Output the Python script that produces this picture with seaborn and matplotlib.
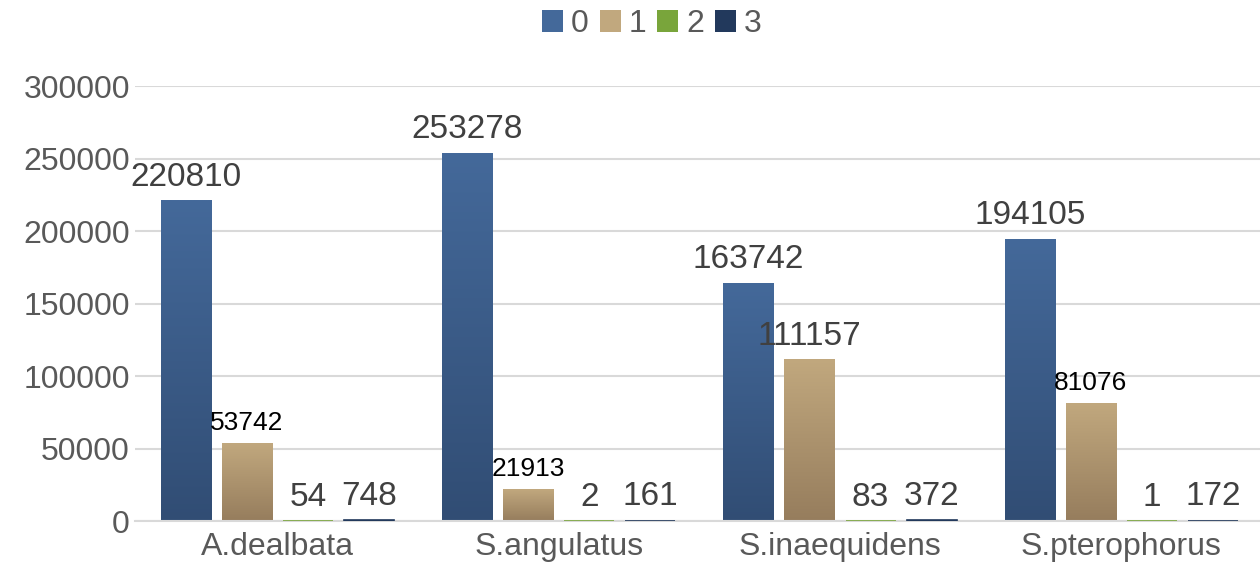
import numpy as np
import pandas as pd
import seaborn as sns
import matplotlib
matplotlib.use("Agg")
import matplotlib.pyplot as plt
from matplotlib.colors import LinearSegmentedColormap
from matplotlib.patches import Patch

species = ["A.dealbata", "S.angulatus", "S.inaequidens", "S.pterophorus"]
classes = ["0", "1", "2", "3"]
class0 = [220810, 253278, 163742, 194105]
class1 = [53742, 21913, 111157, 81076]
class2 = [54, 2, 83, 1]
class3 = [748, 161, 372, 172]

# top / bottom colours of each series gradient
grad = {
    "0": ("#44699a", "#314d74"),
    "1": ("#c1a87e", "#967d5d"),
    "2": ("#79a53b", "#5c842d"),
    "3": ("#22395c", "#1b2e4b"),
}
# a few labels are drawn smaller and black in the original
small_black = {("1", "A.dealbata"), ("1", "S.angulatus"), ("1", "S.pterophorus")}

df = pd.DataFrame({
    "species": np.repeat(species, 4),
    "cls": classes * 4,
    "count": [v for row in zip(class0, class1, class2, class3) for v in row],
})

sns.set_style("white")
plt.rcParams["font.family"] = ["Liberation Sans", "DejaVu Sans"]

fig = plt.figure(figsize=(12.6, 5.63), dpi=100)
ax = fig.add_axes([0.107, 0.0746, 0.893, 0.7725])

palette = {c: grad[c][0] for c in classes}
sns.barplot(data=df, x="species", y="count", hue="cls", hue_order=classes,
            order=species, palette=palette, width=0.868, gap=0.18,
            ax=ax, legend=False, errorbar=None, saturation=1)

XLIM = (-0.507, 3.493)
ax.set_ylim(0, 300000)
ax.set_xlim(*XLIM)
ax.set_yticks(range(0, 300001, 50000))
ax.yaxis.grid(True, color="#d9d9d9", linewidth=1.5)
ax.set_axisbelow(True)
for s in ["top", "right", "left"]:
    ax.spines[s].set_visible(False)
ax.spines["bottom"].set_color("#d9d9d9")
ax.spines["bottom"].set_linewidth(1.5)
ax.tick_params(axis="both", length=0, labelsize=23, labelcolor="#595959")
ax.tick_params(axis="x", pad=8)
ax.set_xlabel("")
ax.set_ylabel("")

# below about 1.5 px the gradient is not visible: draw a flat thin bar instead
min_h = 1.5 / 435 * 300000

# replace flat fills with vertical gradients
for i, cls in enumerate(classes):
    cont = ax.containers[i]
    top, bot = grad[cls]
    cmap = LinearSegmentedColormap.from_list(cls, [bot, top])
    for bar, sp in zip(cont, species):
        x0, w, h = bar.get_x(), bar.get_width(), bar.get_height()
        if h < min_h:
            bar.set_facecolor(top)
            bar.set_edgecolor(top)
            bar.set_linewidth(1.2)
            bar.set_zorder(3)
        else:
            ax.imshow(np.linspace(0, 1, 256).reshape(-1, 1), cmap=cmap, origin="lower",
                      extent=[x0, x0 + w, 0, h], aspect="auto", zorder=2)
            bar.set_visible(False)
        if (cls, sp) in small_black:
            ax.annotate(f"{int(h)}", (x0 + w / 2, h), xytext=(0, 6), textcoords="offset points",
                        ha="center", va="bottom", fontsize=19, color="black")
        else:
            ax.annotate(f"{int(h)}", (x0 + w / 2, h), xytext=(0, 6), textcoords="offset points",
                        ha="center", va="bottom", fontsize=24, color="#404040")
ax.set_aspect("auto")
ax.set_xlim(*XLIM)
ax.set_ylim(0, 300000)

handles = [Patch(facecolor=grad[c][0], edgecolor="none") for c in classes]
fig.legend(handles, classes, loc="center", bbox_to_anchor=(652 / 1260, 1 - 24 / 563), ncol=4,
           frameon=False, fontsize=23, labelcolor="#595959", handlelength=0.66,
           handleheight=0.66, handletextpad=0.25, columnspacing=0.34,
           borderpad=0, borderaxespad=0)

fig.savefig("out.png", dpi=100)
